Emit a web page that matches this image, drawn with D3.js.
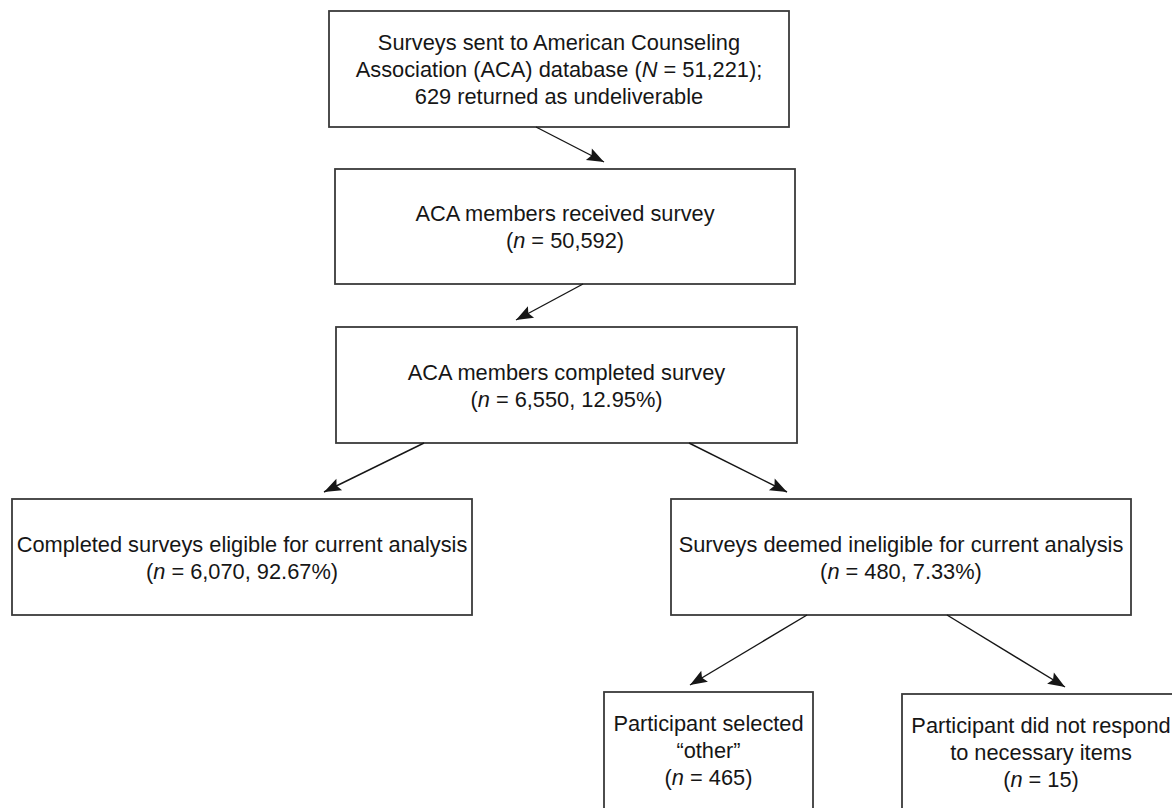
<!DOCTYPE html>
<html>
 <head>
  <meta charset="utf-8" />
  <title>Survey flow</title>
  <script src="https://cdn.jsdelivr.net/npm/d3@7"></script>
  <style>
    html, body { margin: 0; padding: 0; background: #fff; }
  </style>
 </head>
 <body>
  <script>
    // data: box texts, counts and percentages ("@" is where the count goes)
    var nodeLines = [
      ["Surveys sent to American Counseling", "Association (ACA) database (@);", "629 returned as undeliverable"],
      ["ACA members received survey", "(@)"],
      ["ACA members completed survey", "(@)"],
      ["Completed surveys eligible for current analysis", "(@)"],
      ["Surveys deemed ineligible for current analysis", "(@)"],
      ["Participant selected", "\u201Cother\u201D", "(@)"],
      ["Participant did not respond", "to necessary items", "(@)"]
    ];
    var nodeSymbols  = ["N", "n", "n", "n", "n", "n", "n"];
    var nodeCounts   = [51221, 50592, 6550, 6070, 480, 465, 15];
    var nodePercents = [null, null, 12.95, 92.67, 7.33, null, null];
    var links = [[0, 1], [1, 2], [2, 3], [2, 4], [4, 5], [4, 6]];

    // layout (pixels)
    var w = 1172, h = 808, lineH = 27;
    var boxes = [
      {x0: 329, y0: 11,  x1: 789,  y1: 127},
      {x0: 335, y0: 169, x1: 795,  y1: 284},
      {x0: 336, y0: 327, x1: 797,  y1: 443},
      {x0: 12,  y0: 499, x1: 472,  y1: 615},
      {x0: 671, y0: 499, x1: 1131, y1: 615},
      {x0: 604, y0: 692, x1: 813,  y1: 814},
      {x0: 902, y0: 694, x1: 1180, y1: 814}
    ];
    // x where each arrow leaves its source and where it points on the target
    var linkX = [[536, 604], [583, 516], [424, 324], [689, 787], [807, 690], [947, 1065]];

    var fmt = d3.format(",");

    var svg = d3.select("body")
      .append("svg")
      .attr("width", w)
      .attr("height", h)
      .style("display", "block");

    svg.append("defs")
      .append("marker")
        .attr("id", "head")
        .attr("markerUnits", "userSpaceOnUse")
        .attr("viewBox", "-18 -8 20 16")
        .attr("refX", 0)
        .attr("refY", 0)
        .attr("markerWidth", 20)
        .attr("markerHeight", 16)
        .attr("orient", "auto")
      .append("path")
        .attr("d", "M0,0 L-17,-6.5 L-14,0 L-17,6.5 Z")
        .attr("fill", "#161616");

    var nodes = nodeLines.map(function(lines, i) {
      return {lines: lines, sym: nodeSymbols[i], count: nodeCounts[i], pct: nodePercents[i], box: boxes[i]};
    });

    var g = svg.selectAll("g.node")
      .data(nodes)
      .enter().append("g")
        .attr("class", "node");

    g.append("rect")
      .attr("x", function(d) { return d.box.x0; })
      .attr("y", function(d) { return d.box.y0; })
      .attr("width", function(d) { return d.box.x1 - d.box.x0; })
      .attr("height", function(d) { return d.box.y1 - d.box.y0; })
      .attr("fill", "none")
      .attr("stroke", "#3a3a3a")
      .attr("stroke-width", 1.8);

    g.each(function(d) {
      var cx = (d.box.x0 + d.box.x1) / 2,
          cy = (Math.min(d.box.y1, d.box.y0 + 116) + d.box.y0) / 2,
          first = cy - (d.lines.length - 1) / 2 * lineH + 8;
      var text = d3.select(this).append("text")
        .attr("text-anchor", "middle")
        .attr("font-family", "'Liberation Sans', Arial, Helvetica, sans-serif")
        .attr("font-size", "21.8px")
        .attr("fill", "#161616");
      d.lines.forEach(function(line, k) {
        var t = text.append("tspan").attr("x", cx).attr("y", first + k * lineH);
        var parts = line.split("@");
        t.append("tspan").text(parts[0]);
        if (parts.length > 1) {
          t.append("tspan").attr("font-style", "italic").text(d.sym);
          t.append("tspan").text(" = " + fmt(d.count) +
            (d.pct != null ? ", " + d.pct.toFixed(2) + "%" : "") + parts[1]);
        }
      });
    });

    svg.selectAll("line.link")
      .data(links)
      .enter().append("line")
        .attr("class", "link")
        .attr("x1", function(d, i) { return linkX[i][0]; })
        .attr("y1", function(d) { return boxes[d[0]].y1; })
        .attr("x2", function(d, i) { return linkX[i][1]; })
        .attr("y2", function(d) { return boxes[d[1]].y0 - 7; })
        .attr("stroke", "#161616")
        .attr("stroke-width", 1.4)
        .attr("marker-end", "url(#head)");
  </script>
 </body>
</html>
